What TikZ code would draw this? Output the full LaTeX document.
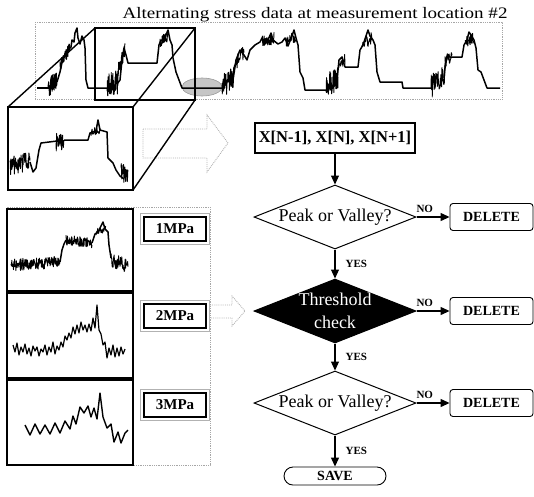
\documentclass[tikz,border=0pt]{standalone}
\usepackage{fontspec}
\setmainfont{Liberation Serif}
\usetikzlibrary{shapes.geometric,arrows.meta,calc}
\newcommand\noisyseg[6]{\draw[line width=0.9pt, line join=round] plot[domain=#1:#3, samples=#6] (\x, {#2+(#4-#2)*(\x-#1)/(#3-#1)+#5*rand});}
\begin{document}
\pgfmathsetseed{11}
\begin{tikzpicture}[x=1pt,y=-1pt,
  sig/.style={line width=1.5pt, line join=round},
  frame/.style={line width=1.4pt},
  dotbox/.style={draw=gray!70, densely dotted, line width=0.8pt},
  hollow/.style={draw=gray!60, densely dotted, line width=0.9pt},
  flow/.style={line width=1.2pt, -{Triangle[length=9pt,width=8pt]}},
  dia/.style={shape=diamond, draw, line width=1pt, minimum width=162pt, minimum height=64pt, inner sep=0pt},
  diatext/.style={font=\fontsize{18}{23}\selectfont, align=center, inner sep=0pt},
  xbox/.style={draw, line width=1.2pt, minimum width=160pt, minimum height=30pt, inner sep=0pt, font=\bfseries\fontsize{16.5}{16}\selectfont},
  del/.style={draw, rounded corners=3pt, line width=0.9pt, minimum width=83pt, minimum height=27pt, inner sep=0pt, font=\bfseries\fontsize{14}{14}\selectfont},
  savebox/.style={draw, rounded corners=9pt, line width=0.9pt, minimum width=102pt, minimum height=18pt, inner sep=0pt, font=\bfseries\fontsize{14}{14}\selectfont},
  lbl/.style={font=\bfseries\fontsize{11}{11}\selectfont, inner sep=0pt},
  mpa/.style={draw=black, line width=1.5pt, minimum width=62pt, minimum height=24pt, inner sep=0pt, font=\bfseries\fontsize{15}{15}\selectfont},
  mpaout/.style={draw=gray!60, line width=0.8pt}
]
\useasboundingbox (0,0) rectangle (534,496);

% ---------- title and top data strip ----------
\node[inner sep=0pt, anchor=base] (title) at (315,18) {\scalebox{1.19}[1]{\fontsize{16}{16}\selectfont Alternating stress data at measurement location \#2}};
\draw[dotbox] (35,22) rectangle (502,99);

\fill[gray!45] (202,87) ellipse (20pt and 9pt);
\draw[gray!80, line width=0.6pt] (202,87) ellipse (20pt and 9pt);

\draw[sig] (37,88) -- (49,88);
\noisyseg{48}{88}{57}{80}{11}{40}
\draw[sig] (57,82) -- (60,72) -- (63,58) -- (66,56) -- (68,50) -- (71,47) -- (72,40) -- (74,42) -- (75,33) -- (77,28) -- (78,38) -- (80,44) -- (82,36) -- (84,40) -- (85,48) -- (86,80) -- (88,88) -- (107,88);
\noisyseg{60}{66}{70}{48}{6}{30}
\noisyseg{107}{86}{118}{82}{12}{50}
\draw[sig] (117,84) -- (120,80) -- (122,60) -- (124,48) -- (126,55) -- (128,63) -- (157,63) -- (159,45) -- (161,40) -- (164,42) -- (166,35) -- (168,30) -- (170,40) -- (172,45) -- (173,58) -- (176,72) -- (179,80) -- (182,88) -- (223,88);
\noisyseg{118}{70}{125}{50}{7}{24}
\noisyseg{160}{42}{168}{36}{6}{24}
\noisyseg{222}{86}{234}{78}{12}{50}
\draw[sig] (233,80) -- (236,60) -- (240,50) -- (244,55) -- (247,60) -- (250,50) -- (255,45) -- (260,42) -- (262,38) -- (264,45) -- (268,40) -- (271,33) -- (273,40) -- (278,44) -- (282,42) -- (285,38) -- (288,46) -- (292,36) -- (294,30) -- (296,38) -- (298,45) -- (300,72) -- (303,78) -- (305,90) -- (327,90);
\noisyseg{234}{65}{244}{52}{7}{30}
\noisyseg{262}{42}{274}{38}{6}{30}
\noisyseg{286}{42}{296}{36}{6}{24}
\noisyseg{326}{86}{338}{78}{12}{50}
\draw[sig] (337,80) -- (339,60) -- (342,57) -- (345,67) -- (358,67) -- (360,50) -- (363,45) -- (366,36) -- (368,30) -- (370,36) -- (373,40) -- (375,45) -- (377,72) -- (380,82) -- (402,82) -- (403,88) -- (432,88);
\noisyseg{338}{68}{345}{60}{6}{20}
\noisyseg{362}{45}{372}{38}{6}{24}
\noisyseg{431}{86}{445}{76}{12}{56}
\draw[sig] (444,78) -- (446,58) -- (448,55) -- (450,57) -- (462,57) -- (464,45) -- (467,40) -- (469,32) -- (471,35) -- (474,40) -- (476,48) -- (478,70) -- (481,72) -- (484,80) -- (487,88) -- (500,88);
\noisyseg{445}{62}{452}{55}{6}{20}
\noisyseg{465}{42}{474}{38}{6}{20}

% ---------- zoom prism ----------
\draw[frame] (95,28) rectangle (195,100);
\draw[frame] (8,107) -- (95,28);
\draw[frame] (133,107) -- (195,28);

% big hollow arrow
\draw[hollow] (143,129) -- (207,129) -- (207,115) -- (228,143) -- (207,172) -- (207,158) -- (143,158) -- cycle;
\draw[frame] (133,190) -- (195,100);

\filldraw[frame, fill=white] (8,107) rectangle (133,190);
\noisyseg{10}{166}{30}{160}{10}{70}
\draw[sig] (30,162) -- (33,172) -- (36,168) -- (39,150) -- (41,143) -- (57,141);
\noisyseg{56}{141}{64}{140}{10}{30}
\draw[sig] (64,140) -- (88,140) -- (90,133) -- (96,131) -- (98,120) -- (100,130) -- (107,132) -- (108,158) -- (113,163) -- (116,170) -- (120,176) -- (124,179);
\noisyseg{90}{132}{100}{130}{4}{20}
\noisyseg{121}{172}{128}{176}{9}{28}

% ---------- lower-left panels ----------
\draw[dotbox] (7,207) rectangle (210,465);
\draw[frame] (7,209) rectangle (133,291);
\draw[frame] (7,293) rectangle (133,378);
\draw[frame] (7,380) rectangle (133,465);

% panel 1
\noisyseg{11}{265}{60}{262}{6}{120}
\draw[sig] (60,262) -- (62,250) -- (64,244) -- (66,240);
\noisyseg{66}{240}{92}{243}{5}{70}
\draw[sig] (92,243) -- (95,234) -- (98,232) -- (101,226) -- (103,222) -- (105,229) -- (108,232) -- (109,245) -- (111,258);
\noisyseg{96}{232}{106}{228}{4}{24}
\noisyseg{111}{260}{128}{266}{7}{50}

% panel 2
\draw[sig, line width=1.2pt] (13,345) -- (15,352) -- (17,343) -- (19,355) -- (21,347) -- (23,352) -- (25,344) -- (27,354) -- (29,348) -- (31,356) -- (33,346) -- (35,351) -- (37,347) -- (39,356) -- (41,349) -- (43,352) -- (45,345) -- (47,355) -- (49,347) -- (51,352) -- (53,342) -- (55,354) -- (57,346) -- (59,350) -- (61,342) -- (63,347) -- (65,336) -- (67,340) -- (69,333) -- (71,338) -- (73,327) -- (75,334) -- (77,325) -- (79,333) -- (81,322) -- (83,330) -- (85,325) -- (87,332) -- (89,324) -- (91,331) -- (93,318) -- (95,328) -- (97,305) -- (99,330) -- (101,334) -- (103,345) -- (105,342) -- (107,358) -- (109,348) -- (111,355) -- (113,345) -- (115,357) -- (117,348) -- (119,356) -- (121,347) -- (123,354) -- (125,349);

% panel 3
\draw[sig, line width=1.4pt] (25,425) -- (30,435) -- (35,424) -- (40,434) -- (45,425) -- (50,434) -- (55,423) -- (60,433) -- (65,421) -- (70,429) -- (73,416) -- (76,424) -- (80,407) -- (84,413) -- (88,406) -- (91,417) -- (94,408) -- (97,419) -- (100,393) -- (103,417) -- (107,428) -- (111,424) -- (114,442) -- (118,432) -- (121,443) -- (125,433) -- (128,430);

\node[mpa] (m1) at (175,229) {1MPa};
\node[mpa] (m2) at (175,316) {2MPa};
\node[mpa] (m3) at (175,405) {3MPa};
\foreach \m in {m1,m2,m3}
  \draw[mpaout] ($(\m.north west)+(-2.5,-2.5)$) rectangle ($(\m.south east)+(2.5,2.5)$);

% small hollow arrow
\draw[hollow] (210,305) -- (232,305) -- (232,296) -- (245,311) -- (232,326) -- (232,318) -- (210,318);

% ---------- flowchart ----------
\node[xbox] (x) at (335,138) {X[N-1], X[N], X[N+1]};
\node[dia] (d1) at (335,217) {};
\node[diatext] (t1) at (d1.center) {Peak or Valley?};
\node[dia, fill=black] (d2) at (335,311) {};
\node[diatext, text=white] (t2) at (d2.center) {Threshold\\check};
\node[dia] (d3) at (335,403) {};
\node[diatext] (t3) at (d3.center) {Peak or Valley?};

\node[del] (e1) at (491.5,217) {DELETE};
\node[del] (e2) at (491.5,311) {DELETE};
\node[del] (e3) at (491.5,403) {DELETE};
\node[savebox] (s) at (335,476) {SAVE};

\draw[flow] (x) -- (d1);
\draw[flow] (d1) -- (d2) node[lbl, midway, right=10pt] {YES};
\draw[flow] (d2) -- (d3) node[lbl, midway, right=10pt] {YES};
\draw[flow] (d3) -- (s) node[lbl, midway, right=10pt] {YES};
\draw[flow] (d1.east) -- (e1) node[lbl, pos=0.25, above=4pt] {NO};
\draw[flow] (d2.east) -- (e2) node[lbl, pos=0.25, above=4pt] {NO};
\draw[flow] (d3.east) -- (e3) node[lbl, pos=0.25, above=4pt] {NO};
\end{tikzpicture}
\end{document}
